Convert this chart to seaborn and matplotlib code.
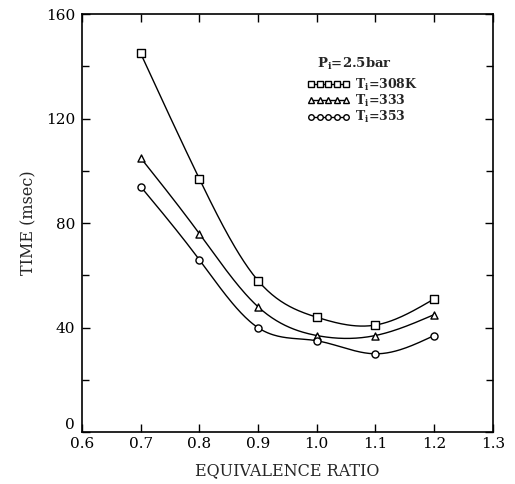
import matplotlib
matplotlib.use("Agg")
import matplotlib.pyplot as plt
import numpy as np
import pandas as pd
import seaborn as sns

sns.set_theme(style="ticks")
plt.rcParams["font.family"] = ["DejaVu Serif"]
plt.rcParams["mathtext.fontset"] = "dejavuserif"

# data
phi = [0.7, 0.8, 0.9, 1.0, 1.1, 1.2]
t_308 = [145, 97, 58, 44, 41, 51]
t_333 = [105, 76, 48, 37, 37, 45]
t_353 = [94, 66, 40, 35, 30, 37]
series_labels = [r"$\mathbf{T_i}$=308K", r"$\mathbf{T_i}$=333", r"$\mathbf{T_i}$=353"]
markers = ["s", "^", "o"]


def natural_spline(x, y, n=200):
    # smooth curve through the measured points (natural cubic spline)
    x = np.asarray(x, float)
    y = np.asarray(y, float)
    k = len(x)
    h = np.diff(x)
    A = np.zeros((k, k))
    b = np.zeros(k)
    A[0, 0] = A[-1, -1] = 1
    for i in range(1, k - 1):
        A[i, i - 1] = h[i - 1]
        A[i, i] = 2 * (h[i - 1] + h[i])
        A[i, i + 1] = h[i]
        b[i] = 6 * ((y[i + 1] - y[i]) / h[i] - (y[i] - y[i - 1]) / h[i - 1])
    M = np.linalg.solve(A, b)
    xs = np.linspace(x[0], x[-1], n)
    idx = np.clip(np.searchsorted(x, xs) - 1, 0, k - 2)
    x0, x1 = x[idx], x[idx + 1]
    hh = x1 - x0
    ys = (M[idx] * (x1 - xs) ** 3 / (6 * hh) + M[idx + 1] * (xs - x0) ** 3 / (6 * hh)
          + (y[idx] / hh - M[idx] * hh / 6) * (x1 - xs)
          + (y[idx + 1] / hh - M[idx + 1] * hh / 6) * (xs - x0))
    return xs, ys


df = pd.DataFrame({"phi": phi, "308": t_308, "333": t_333, "353": t_353})

fig = plt.figure(figsize=(5.15, 4.84), dpi=100)
ax = fig.add_axes([0.159, 0.107, 0.798, 0.864])

handles = []
for col, lab, mk in zip(["308", "333", "353"], series_labels, markers):
    xs, ys = natural_spline(df["phi"], df[col])
    ax.plot(xs, ys, color="black", lw=1.0)
    sns.scatterplot(x=df["phi"], y=df[col], marker=mk, s=26, facecolor="white",
                    edgecolor="black", linewidth=1.0, ax=ax, zorder=3)
    h, = ax.plot([], [], color="black", lw=1.0, marker=mk, ms=4.0, mfc="white",
                 mec="black", label=lab)
    handles.append(h)

ax.set_xlim(0.6, 1.3)
ax.set_ylim(0, 160)
ax.set_xticks(np.arange(0.6, 1.31, 0.1))
ax.set_xticklabels(["0.6", "0.7", "0.8", "0.9", "1.0", "1.1", "1.2", "1.3"])
ax.set_yticks([0, 40, 80, 120, 160])
ax.set_yticks([20, 60, 100, 140], minor=True)
ax.tick_params(direction="in", top=True, right=True, which="both", labelsize=11,
               length=6, width=1, colors="black")
ax.tick_params(axis="y", which="major", pad=5)
ax.tick_params(which="minor", length=5)
# lift the "0" above the "0.6" like the original
ax.get_yticklabels()[0].set_verticalalignment("bottom")
for s in ax.spines.values():
    s.set_linewidth(1.2)
    s.set_color("black")

ax.set_xlabel("EQUIVALENCE RATIO", fontsize=11.5, labelpad=8)
ax.set_ylabel("TIME (msec)", fontsize=11.5, labelpad=6)

ax.text(1.0, 141, r"$\mathbf{P_i}$=2.5bar", fontsize=9.5, fontweight="bold",
        va="center")
ax.legend(handles=handles, loc="upper left", bbox_to_anchor=(0.53, 0.868),
          frameon=False, numpoints=5, handlelength=3.4, handletextpad=0.4,
          labelspacing=0.0, borderpad=0.1,
          prop={"size": 9, "weight": "bold"})

fig.savefig("out.png", dpi=100)
